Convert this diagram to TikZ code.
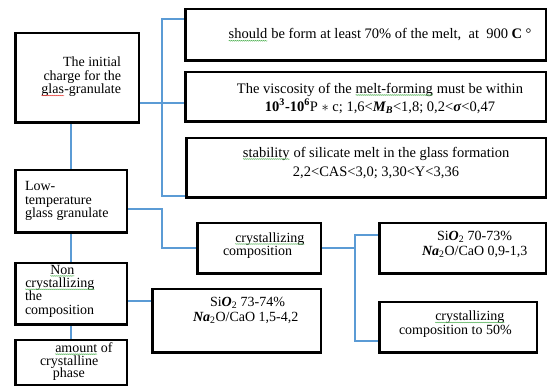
\documentclass[tikz,border=0pt]{standalone}
\usepackage{fontspec}
\setmainfont{Liberation Serif}
\usetikzlibrary{fit,backgrounds,decorations.pathmorphing}
\definecolor{conblue}{HTML}{5B9BD5}
\definecolor{splgreen}{HTML}{4CAF50}
\definecolor{splred}{HTML}{E53935}
\newcommand\spl[2][splgreen]{\tikz[baseline=(w.base)]{\node[inner sep=0pt,outer sep=0pt,draw=none,anchor=base](w) at (0,0){#2};\draw[#1,line width=0.5pt,decorate,decoration={snake,amplitude=0.4pt,segment length=2pt}] ([yshift=-1.8pt]w.base west) -- ([yshift=-1.8pt]w.base east);}}
\begin{document}
\begin{tikzpicture}[x=1pt,y=-1pt,
  box/.style={draw=black,line width=2.4pt,inner sep=0pt,outer sep=0pt},
  conn/.style={draw=conblue,line width=2pt},
  txt/.style={inner sep=0pt,outer sep=0pt,font=\fontsize{14.5}{#1}\selectfont},
  stxt/.style={inner sep=0pt,outer sep=0pt,font=\fontsize{14}{#1}\selectfont}]
\useasboundingbox (0,0) rectangle (547,387);
% boxes
\node[box,fit={(15.3,33.3) (138.7,122.7)}] (A) {};
\node[box,fit={(185.3,9.3) (546,60.7)}] (B1) {};
\node[box,fit={(185.3,72.3) (546,121.7)}] (B2) {};
\node[box,fit={(186.3,138.3) (546,197.7)}] (B3) {};
\node[box,fit={(15.3,170.3) (126.7,232.7)}] (C) {};
\node[box,fit={(15.3,263.3) (126.7,324.7)}] (D) {};
\node[box,fit={(15.3,340.3) (126.7,385)}] (G) {};
\node[box,fit={(197.3,223.3) (320.7,273.7)}] (E) {};
\node[box,fit={(379.3,223.3) (546,273.7)}] (F1) {};
\node[box,fit={(379.3,302.3) (536.7,352.7)}] (F2) {};
\node[box,fit={(152.3,289.3) (320.7,352.7)}] (H) {};
% junctions
\coordinate (j1) at (162,19);
\coordinate (j2) at (162,196);
\coordinate (j4) at (162,248.5);
\coordinate (j5) at (355,248.5);
\coordinate (j6) at (355,341);
\begin{scope}[on background layer]
\draw[conn] (B1.west |- j1) -- (j1) -- (j2) -- (B3.west |- j2);
\draw[conn] (A.east |- 0,103) -- (B2.west |- 0,103);
\draw[conn] (A.south -| C.north) -- (C.north);
\draw[conn] (C.south) -- (D.north);
\draw[conn] (D.south) -- (G.north);
\draw[conn] (C.east |- 0,209) -| (j4) -- (E.west);
\draw[conn] (E.east) -- (j5);
\draw[conn] (F1.west |- 0,235) -| (j6) -- (F2.west |- j6);
\draw[conn] (D.east |- 0,301) -- (H.west |- 0,301);
\end{scope}
% texts
\node[stxt=13.5,align=right,anchor=north east] (tA) at (121,57) {The initial\\charge for the\\\spl[splred]{glas}-granulate};
\node[txt=18,anchor=base] (tB1) at (380,39) {\spl{should} be form at least 70\% of the melt,\ \ at\ \ 900 \textbf{C} °};
\node[txt=18,align=center,anchor=north] (tB2) at (380,83) {The viscosity of the \spl{melt-forming} must be within\\\textbf{10\textsuperscript{3}-10\textsuperscript{6}}P $\ast$ c; 1,6<\textbf{\textit{M\textsubscript{B}}}<1,8; 0,2<\textbf{\textit{σ}}<0,47};
\node[txt=19,align=center,anchor=north] (tB3) at (376,147) {\spl{stability} of silicate melt in the glass formation\\2,2<CAS<3,0; 3,30<Y<3,36};
\node[stxt=13.5,align=left,anchor=north west] (tC) at (25,181.5) {Low-\\temperature\\glass granulate};
\node[stxt=13.3,align=left,anchor=north west] (tD) at (25,265) {\hspace*{25pt}\spl{Non}\\\spl{crystallizing}\\the\\composition};
\node[stxt=12.8,align=left,anchor=north west] (tG) at (40,342.5) {\hspace*{15pt}\spl{amount} of\\crystalline\\\hspace*{13pt}phase};
\node[stxt=13.5,align=left,anchor=north west] (tE) at (223,232.5) {\hspace*{12pt}\spl{crystallizing}\\composition};
\node[stxt=15,align=left,anchor=north west] (tF1) at (422,231.5) {\hspace*{15pt}Si\textbf{\textit{O}}\textsubscript{2} 70-73\%\\\textbf{\textit{Na}}\textsubscript{2}O/CaO 0,9-1,3};
\node[stxt=13.5,align=left,anchor=north west] (tF2) at (399,311) {\hspace*{36pt}\spl{crystallizing}\\composition to 50\%};
\node[stxt=15,align=left,anchor=north west] (tH) at (193,297.5) {\hspace*{17pt}Si\textbf{\textit{O}}\textsubscript{2} 73-74\%\\\textbf{\textit{Na}}\textsubscript{2}O/CaO 1,5-4,2};
\end{tikzpicture}
\end{document}
